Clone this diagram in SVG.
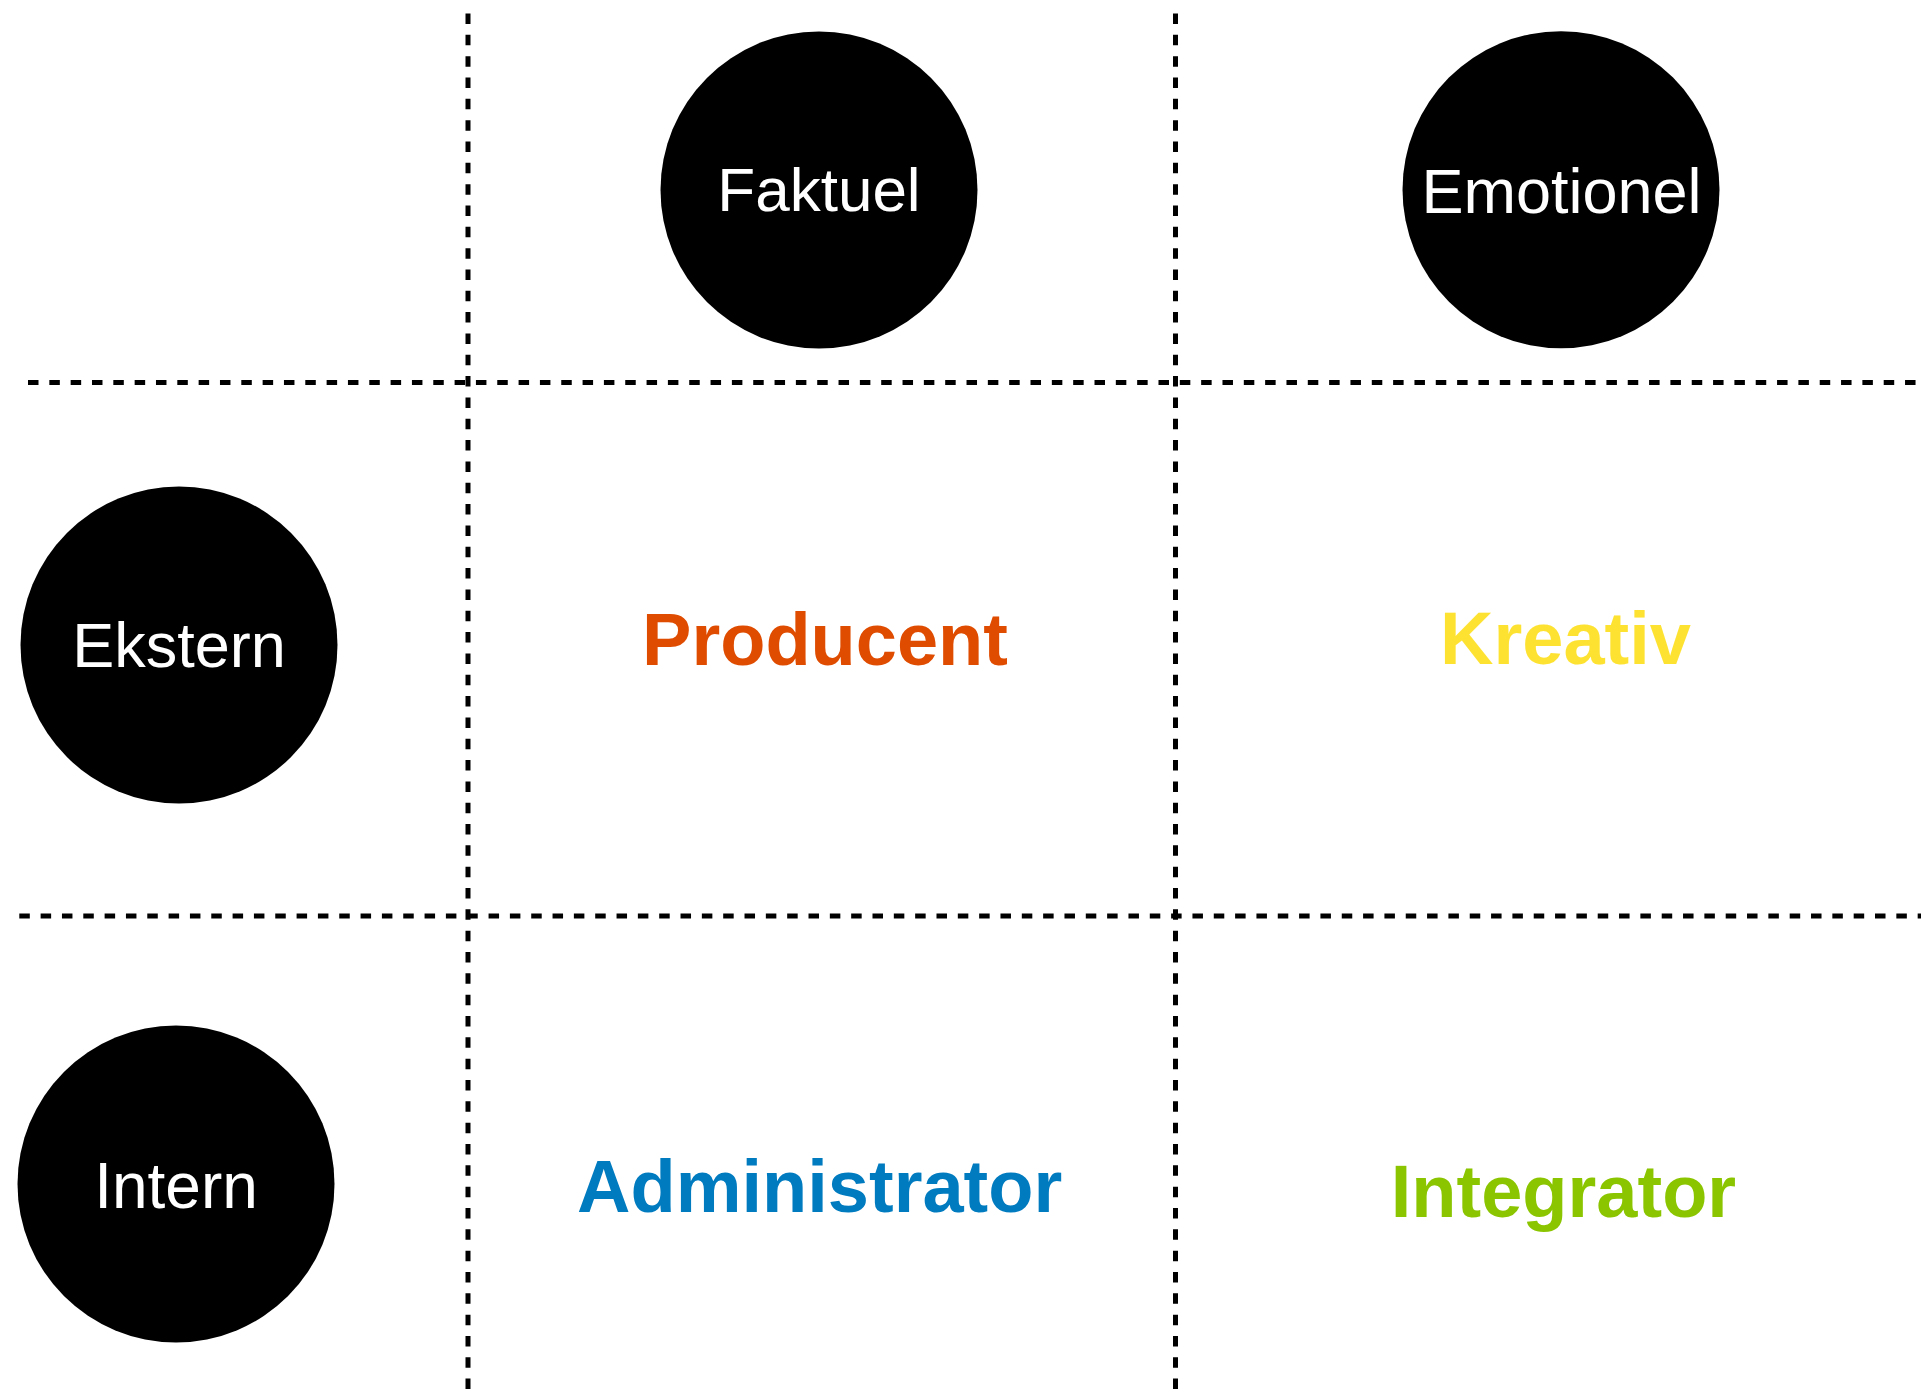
<svg xmlns="http://www.w3.org/2000/svg" width="1921" height="1400" viewBox="0 0 1921 1400">
<style>
.grid{stroke:#000;stroke-width:5;stroke-dasharray:10.5 10.83;fill:none}
.dot{fill:#000}
.wl{fill:#fff;font-family:"Liberation Sans",Arial,sans-serif;font-weight:normal;text-anchor:middle}
.bl{font-family:"Liberation Sans",Arial,sans-serif;font-weight:bold;font-size:74px;text-anchor:middle}
</style>
<rect width="1921" height="1400" fill="#fff"/>
<g id="connectors">
<line class="grid" x1="468" y1="13.5" x2="468" y2="1400"/>
<line class="grid" x1="1175.5" y1="13.5" x2="1175.5" y2="1400"/>
<line class="grid" x1="28" y1="382.5" x2="1921" y2="382.5"/>
<line class="grid" x1="19.3" y1="916" x2="1921" y2="916"/>
</g>
<g id="faktuel">
<circle class="dot" cx="819" cy="190" r="158.5"/>
<text class="wl" x="819" y="210.7" font-size="62">Faktuel</text>
</g>
<g id="emotionel">
<circle class="dot" cx="1561" cy="189.7" r="158.5"/>
<text class="wl" x="1561.5" y="212.7" font-size="63">Emotionel</text>
</g>
<g id="ekstern">
<circle class="dot" cx="179" cy="645" r="158.5"/>
<text class="wl" x="179" y="667.3" font-size="63">Ekstern</text>
</g>
<g id="intern">
<circle class="dot" cx="176" cy="1184" r="158.5"/>
<text class="wl" x="176" y="1207.7" font-size="64">Intern</text>
</g>
<g id="producent">
<text class="bl" x="825" y="665" fill="#DF4C00">Producent</text>
</g>
<g id="kreativ">
<text class="bl" x="1565.5" y="664.3" fill="#FEE232">Kreativ</text>
</g>
<g id="administrator">
<text class="bl" x="819.7" y="1211.7" fill="#017BC0">Administrator</text>
</g>
<g id="integrator">
<text class="bl" x="1563.5" y="1217.3" font-size="75" fill="#8BC500">Integrator</text>
</g>
</svg>
